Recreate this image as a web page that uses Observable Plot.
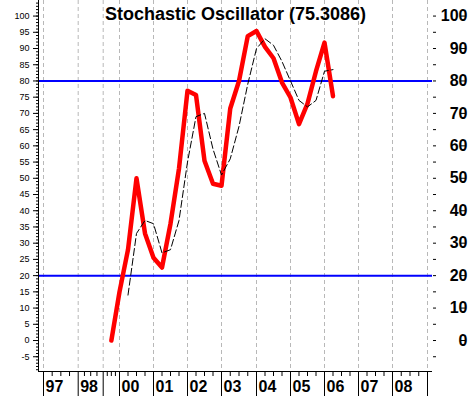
<!DOCTYPE html>
<html>
<head>
<meta charset="utf-8">
<script src="https://cdn.jsdelivr.net/npm/d3@7"></script>
<script src="https://cdn.jsdelivr.net/npm/@observablehq/plot@0.6"></script>
<style>
  html, body { margin: 0; padding: 0; background: #ffffff; }
</style>
</head>
<body>
<div id="chart"></div>
<script>
// ---- data ----
const titleText = "Stochastic Oscillator (75.3086)";
const periods = [1999.5, 2000.0, 2000.25, 2000.5, 2000.75, 2001.0, 2001.25, 2001.5, 2001.75,
  2002.0, 2002.25, 2002.5, 2002.75, 2003.0, 2003.25, 2003.5, 2003.75, 2004.0, 2004.25,
  2004.5, 2004.75, 2005.0, 2005.25, 2005.5, 2005.75, 2006.0, 2006.25];
const pctK = [0, 15, 28, 50, 33, 25.5, 22.5, 36, 53, 77, 75.7, 55.4, 48.3, 47.7, 71.5, 80,
  93.8, 95.4, 90.5, 87, 79.5, 74.9, 66.7, 73, 83, 91.8, 75.3086];
const pctD = [null, null, 14, 33, 37, 36, 27, 28, 37, 55, 69, 70, 59, 51, 56, 66,
  79, 90, 93, 91, 86, 80, 74, 72, 74, 83, 83.5];
const levels = [20, 80];
const gridYears = [1997, 1998, 1999, 2000, 2001, 2002, 2003, 2004, 2005, 2006, 2007, 2008, 2009];
const labelYears = [1997, 1998, 2000, 2001, 2002, 2003, 2004, 2005, 2006, 2007, 2008];
const leftTickLabels = [-5, 0, 5, 10, 15, 20, 25, 30, 35, 40, 45, 50, 55, 60, 65, 70, 75, 80, 85, 90, 95, 100];
const rightTickLabels = [0, 10, 20, 30, 40, 50, 60, 70, 80, 90, 100];

// ---- scales ----
const xDomain = [1996.86, 1997, 1998, 1999, 2000, 2001, 2002, 2003, 2004, 2005, 2006, 2007, 2008, 2009, 2009.14];
const xRange  = [38, 43, 77.7, 102.7, 119, 153, 187, 221, 256, 290, 324, 358, 392, 427, 432];
const yMin = -9.55, yMax = 104.8;

const kData = periods.map((p, i) => ({p, v: pctK[i]}));
const dData = periods.map((p, i) => ({p, v: pctD[i]}));

const minorY = d3.range(-9, 105, 1);
const rightMinor = d3.range(-5, 101, 5);
const quarterTicks = gridYears.slice(0, -1).flatMap((y, i) => {
  const a = y, b = gridYears[i + 1];
  return [0.25, 0.5, 0.75].map(f => a + (b - a) * f);
});

const font = "'Liberation Sans', Arial, sans-serif";

const chart = Plot.plot({
  width: 469,
  height: 396,
  marginLeft: 38,
  marginRight: 37,
  marginTop: 0,
  marginBottom: 25,
  style: {fontFamily: font, background: "#ffffff", color: "#000000"},
  x: {type: "linear", domain: xDomain, range: xRange},
  y: {domain: [yMin, yMax]},
  marks: [
    Plot.gridX({ticks: gridYears, stroke: "#b8b8b8", strokeOpacity: 1, strokeDasharray: "4,3"}),
    Plot.ruleY(levels, {stroke: "#0000ff", strokeWidth: 2}),
    Plot.line(kData, {x: "p", y: "v", stroke: "#ff0000", strokeWidth: 4.5, strokeLinejoin: "round", strokeLinecap: "round"}),
    Plot.line(dData, {x: "p", y: "v", stroke: "#000000", strokeWidth: 1, strokeDasharray: "7,3"}),
    // frame lines (left and bottom)
    Plot.ruleX([xDomain[0]], {stroke: "#000000"}),
    Plot.ruleY([yMin], {stroke: "#000000"}),
    // left axis
    Plot.axisY({anchor: "left", ticks: minorY, tickSize: 2, tickFormat: () => "", label: null}),
    Plot.axisY({anchor: "left", ticks: leftTickLabels, tickSize: 5, tickPadding: 4, fontSize: 9,
      tickFormat: d => String(d), label: null}),
    // right axis
    Plot.axisY({anchor: "right", ticks: rightMinor, tickSize: 3, tickFormat: () => "", label: null}),
    Plot.axisY({anchor: "right", ticks: rightTickLabels, tickSize: 5, tickPadding: 3, fontSize: 16,
      fontWeight: "bold", textAnchor: "end", dx: 27, tickFormat: d => String(d), label: null}),
    // bottom axis
    Plot.axisX({ticks: gridYears, tickSize: 25, tickFormat: () => "", label: null}),
    Plot.axisX({ticks: quarterTicks, tickSize: 5, tickFormat: () => "", label: null}),
    Plot.axisX({ticks: labelYears, tickSize: 0, tickPadding: 9, fontSize: 16, fontWeight: "bold",
      textAnchor: "start", dx: 2, tickFormat: d => String(d).slice(2), label: null}),
    // title
    Plot.text([titleText], {frameAnchor: "top", dx: 0, dy: 7, fontSize: 18, fontWeight: "bold", fill: "#000000"})
  ]
});
document.getElementById("chart").appendChild(chart);
</script>
</body>
</html>
